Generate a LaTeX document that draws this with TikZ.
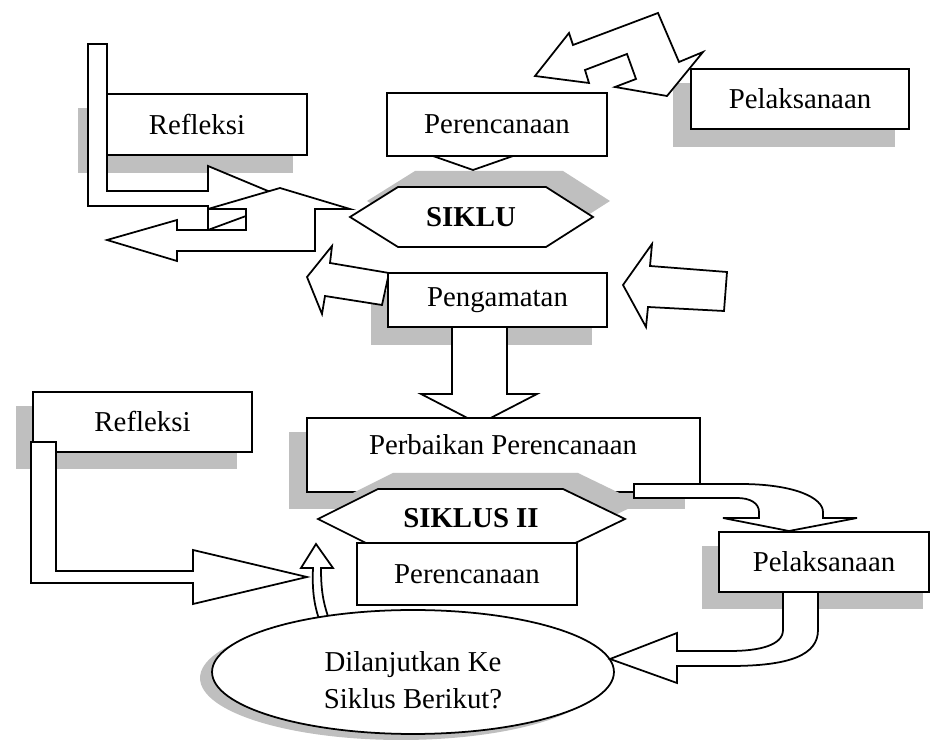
\documentclass[tikz,border=0pt]{standalone}
\usepackage{fontspec}
\setmainfont{Liberation Serif}
\usepackage{xcolor}
\usepackage{tikz}
\usetikzlibrary{shapes.geometric}
\definecolor{shadowgrey}{RGB}{191,191,191}
\tikzset{box/.style={draw, fill=white, line width=1pt, inner sep=0pt, font=\fontsize{16.4}{21}\selectfont}}
\tikzset{blockarrow/.style={draw, fill=white, line width=1pt, line join=miter}}
\tikzset{greyshadow/.style={fill=shadowgrey}}
\tikzset{txt/.style={inner sep=0pt, font=\fontsize{16.4}{21}\selectfont}}

\begin{document}
\begin{tikzpicture}[x=0.02cm,y=-0.02cm]
\useasboundingbox (0,0) rectangle (930,742);
% shadows
\fill[greyshadow] (78,108) rectangle (293,173);
\fill[greyshadow] (673,83) rectangle (895,147);
\fill[greyshadow] (367,201) -- (415,171) -- (563,171) -- (610,201) -- (563,231) -- (415,231) -- cycle;
\fill[greyshadow] (371,291) rectangle (592,345);
\fill[greyshadow] (16,406) rectangle (237,469);
\fill[greyshadow] (289,432) rectangle (685,509);
\fill[greyshadow] (702,546) rectangle (923,609);
\fill[greyshadow] (401,678) ellipse [x radius=4.02cm, y radius=1.24cm];
% arrows lying under the boxes
\draw[blockarrow] (88,44) -- (107,44) -- (107,191) -- (208,191) -- (208,166) -- (286,198.5) -- (208,231) -- (208,206) -- (88,206) -- cycle;
\draw[blockarrow] (208,209) -- (280,188) -- (350,209) -- (315,209) -- (315,251) -- (177,251) -- (177,261) -- (107,240) -- (177,220) -- (177,230) -- (208,230) -- cycle;
\draw[line width=1pt] (208,209) rectangle (246,230);
\draw[line width=1pt] (208,230) -- (246,216);
\draw[blockarrow] (433,156) -- (473,170) -- (513,156) -- cycle;
\draw[blockarrow] (307,277) -- (332,246) -- (330,263) -- (389,273) -- (382,305) -- (325,296) -- (322,314) -- cycle;
\draw[blockarrow] (452,320) -- (507,320) -- (507,394) -- (537,394) -- (479,424) -- (421,394) -- (452,394) -- cycle;
\draw[blockarrow] (535,76) -- (569,33) -- (573,45) -- (658,13) -- (679,62) -- (703,52) -- (667,96) -- (615,87) -- (636,79) -- (627,54) -- (585,70) -- (589,83) -- cycle;
\draw[blockarrow] (623,285) -- (652,244) -- (650,266) -- (727,272) -- (724,311) -- (648,307) -- (646,327) -- cycle;
% siklus I
\node[box, minimum width=4cm, minimum height=1.22cm] (refl1) at (207,124.5) {Refleksi\kern0.4cm};
\node[box, minimum width=4.4cm, minimum height=1.26cm] (renc1) at (497,124.5) {Perencanaan};
\node[box, minimum width=4.36cm, minimum height=1.2cm] (laks1) at (800,99) {Pelaksanaan};
\draw[blockarrow] (350,217) -- (398,187) -- (546,187) -- (593,217) -- (546,247) -- (398,247) -- cycle;
\node[txt, font=\fontsize{16.4}{21}\selectfont\bfseries] (siklus1) at (471,217) {SIKLU};
\node[box, minimum width=4.38cm, minimum height=1.08cm] (amat) at (497.5,300) {Pengamatan};
% siklus II
\node[box, minimum width=4.38cm, minimum height=1.2cm] (refl2) at (142.5,422) {Refleksi};
\node[box, minimum width=7.86cm, minimum height=1.48cm] (baik) at (503.5,455) {};
\node[txt] (baiktxt) at (503,445) {Perbaikan Perencanaan};
\fill[greyshadow] (333,503) -- (393,473) -- (578,473) -- (640,503) -- (578,533) -- (393,533) -- cycle;
\draw[blockarrow] (318,519) -- (378,489) -- (563,489) -- (625,519) -- (563,549) -- (378,549) -- cycle;
\node[txt, font=\fontsize{16.4}{21}\selectfont\bfseries] (siklus2) at (471,518) {SIKLUS II};
\node[box, minimum width=4.4cm, minimum height=1.24cm] (renc2) at (467,574) {Perencanaan};
\draw[blockarrow] (313,568) .. controls (312,590) and (314,605) .. (320,622) -- (330,622) .. controls (323,603) and (321,590) .. (321,568) -- (333,568) -- (316,544) -- (301,568) -- cycle;
\node[draw, fill=white, line width=1pt, ellipse, minimum width=8.04cm, minimum height=2.48cm] (lanjut) at (413,672) {};
\node[txt, align=center] (lanjuttxt) at (413,680) {Dilanjutkan Ke\\Siklus Berikut?};
\draw[blockarrow] (31,442) -- (56,442) -- (56,571) -- (193,571) -- (193,550) -- (307,577) -- (193,604) -- (193,583) -- (31,583) -- cycle;
\draw[blockarrow] (634,484) -- (740,484) .. controls (795,484) and (823,498) .. (823,512) -- (823,518) -- (857,518) -- (789,531) -- (723,518) -- (759,518) -- (759,512) .. controls (759,503) and (750,498) .. (737,498) -- (634,498) -- cycle;
\node[box, minimum width=4.2cm, minimum height=1.2cm] (laks2) at (824,562) {Pelaksanaan};
\draw[blockarrow] (783,592) -- (783,630) .. controls (783,645) and (760,651) .. (730,651) -- (677,651) -- (677,633) -- (610,659) -- (677,683) -- (677,666) -- (730,666) .. controls (790,666) and (818,655) .. (818,630) -- (818,592) -- cycle;
\end{tikzpicture}
\end{document}
